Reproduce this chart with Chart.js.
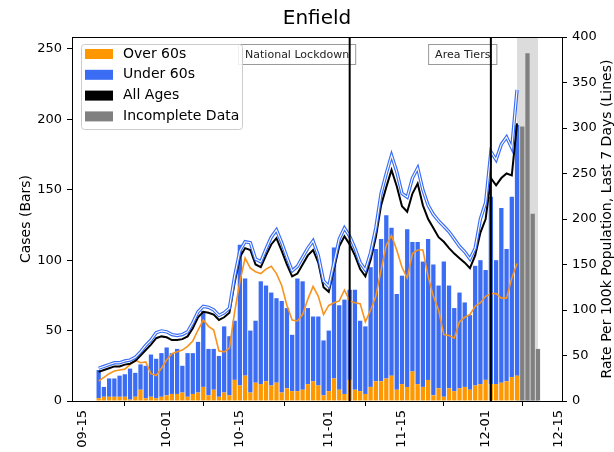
<!DOCTYPE html>
<html>
<head>
<meta charset="utf-8">
<script src="https://cdn.jsdelivr.net/npm/chart.js@4.4.0/dist/chart.umd.min.js"></script>
<style>
    html, body { margin: 0; padding: 0; background: #fff; }
</style>
</head>
<body>
<canvas id="enfieldChart" width="614" height="452"></canvas>
<script>
// first bar is 09-18, counted as days after 09-15
const startDay = 3;

// Cases per day (bars)
const over60Cases = [
    2, 3, 3, 3, 3, 3, 1, 3, 8, 2,
    3, 2, 3, 4, 5, 5, 6, 3, 5, 6,
    10, 4, 8, 3, 6, 4, 15, 11, 18, 6,
    13, 12, 14, 11, 13, 6, 9, 7, 7, 8,
    12, 14, 11, 4, 7, 16, 8, 5, 15, 8,
    7, 5, 10, 14, 14, 16, 18, 8, 12, 10,
    21, 12, 10, 15, 4, 9, 3, 9, 7, 9,
    10, 8, 11, 12, 15, 12, 12, 13, 14, 17, 18
];
const under60Cases = [
    20, 7, 13, 13, 15, 16, 22, 17, 18, 23,
    30, 28, 31, 34, 29, 32, 19, 31, 29, 36,
    54, 33, 29, 29, 47, 42, 42, 100, 69, 44,
    44, 73, 68, 66, 60, 65, 57, 40, 80, 77,
    54, 46, 49, 39, 43, 93, 60, 67, 64, 71,
    50, 48, 85, 94, 101, 116, 105, 68, 77, 112,
    92, 101, 89, 100, 93, 73, 96, 73, 59, 68,
    60, 53, 85, 88, 78, 133, 88, 124, 94, 128, 178
];
const incompleteCases = [195, 247, 133, 37];
const incompleteStart = 81;

// Rate per 100k, last 7 days (lines)
const allAgesRate = [
    32, 34, 36, 38, 38, 40, 41, 44, 50, 56,
    62, 69, 71, 70, 67, 67, 68, 71, 80, 92,
    98, 97, 95, 89, 92, 97, 130, 158, 168, 166,
    150, 147, 160, 172, 179, 165, 150, 137, 140, 150,
    160, 166, 152, 125, 120, 145, 170, 181, 172, 160,
    145, 137, 155, 180, 215, 235, 254, 236, 214, 208,
    228, 239, 215, 200, 190, 180, 175, 168, 162, 157,
    152, 146, 160, 185, 200, 245, 237, 245, 250, 248, 305
];
const under60Rate = [
    36, 38, 40, 42, 42, 44, 45, 48, 54, 61,
    67, 75, 77, 76, 73, 72, 73, 76, 86, 98,
    104, 103, 100, 94, 97, 102, 137, 165, 175, 174,
    156, 153, 167, 180, 188, 174, 158, 143, 148, 158,
    168, 176, 160, 132, 126, 152, 178, 190, 181, 168,
    152, 144, 163, 190, 228, 250, 270, 252, 228, 224,
    245, 256, 232, 215, 205, 198, 192, 186, 178, 170,
    164, 156, 168, 200, 218, 274, 265, 282, 290, 278, 342
];
const over60Rate = [
    22, 26, 30, 33, 34, 35, 40, 45, 42, 43,
    30, 28, 36, 45, 52, 54, 56, 60, 66, 78,
    89, 82, 78, 55, 54, 58, 98, 131, 157, 146,
    142, 140, 145, 148, 140, 127, 105, 89, 88, 95,
    112, 126, 115, 95, 105, 108, 110, 122, 110, 108,
    107, 87, 100, 115, 144, 171, 182, 166, 147, 135,
    162, 166, 166, 137, 115, 100, 73, 72, 69, 87,
    92, 95, 104, 108, 115, 118, 118, 113, 113, 135, 151
];

// Axes
const tickDays = [0, 16, 30, 47, 61, 77, 91];
const tickLabels = ['09-15', '10-01', '10-15', '11-01', '11-15', '12-01', '12-15'];
const caseTicks = [0, 50, 100, 150, 200, 250];
const rateTicks = [0, 50, 100, 150, 200, 250, 300, 350, 400];

// Events and incomplete span (days after 09-15)
const eventDays = [51, 78];
const eventLabels = ['National Lockdown', 'Area Tiers'];
const shadeDays = [83, 87];

const ORANGE = '#ff9800';
const BLUE = '#3a6cf4';
const GREY = '#808080';
const FONT = 'DejaVu Sans';

Chart.defaults.font.family = FONT;
Chart.defaults.color = '#000';

function toPoints(values, offset) {
    return values.map((v, i) => ({ x: startDay + offset + i, y: v }));
}

/**
 * Extra drawing: shaded span, event lines, frame, titles, legend
 */
const decorPlugin = {
    id: 'decor',
    beforeDatasetsDraw(chart) {
        const { ctx, chartArea: a, scales: { x } } = chart;
        const x0 = x.getPixelForValue(shadeDays[0]);
        const x1 = x.getPixelForValue(shadeDays[1]);
        ctx.save();
        ctx.fillStyle = '#dcdcdc';
        ctx.fillRect(x0, a.top, x1 - x0, a.bottom - a.top);
        ctx.restore();
    },
    afterDatasetsDraw(chart) {
        const { ctx, chartArea: a, scales: { x } } = chart;
        ctx.save();
        eventDays.forEach((day, i) => {
            const px = x.getPixelForValue(day);
            ctx.font = '11px "' + FONT + '"';
            const w = ctx.measureText(eventLabels[i]).width;
            const right = px - 0.5;
            ctx.fillStyle = 'rgba(255,255,255,0.85)';
            ctx.fillRect(right - w - 6.5, 44.5, w + 13, 20);
            ctx.strokeStyle = '#999';
            ctx.lineWidth = 1;
            ctx.strokeRect(right - w - 6.5, 44.5, w + 13, 20);
            ctx.fillStyle = '#222';
            ctx.textAlign = 'right';
            ctx.textBaseline = 'middle';
            ctx.fillText(eventLabels[i], right, 55);

            ctx.strokeStyle = '#000';
            ctx.lineWidth = 2;
            ctx.beginPath();
            ctx.moveTo(px, a.top);
            ctx.lineTo(px, a.bottom);
            ctx.stroke();
        });
        ctx.restore();
    },
    afterDraw(chart) {
        const { ctx, chartArea: a } = chart;
        ctx.save();

        // top spine
        ctx.strokeStyle = '#000';
        ctx.lineWidth = 1;
        ctx.beginPath();
        ctx.moveTo(a.left, a.top + 0.5);
        ctx.lineTo(a.right, a.top + 0.5);
        ctx.stroke();

        // title
        ctx.fillStyle = '#000';
        ctx.font = '20px "' + FONT + '"';
        ctx.textAlign = 'center';
        ctx.textBaseline = 'middle';
        ctx.fillText('Enfield', (a.left + a.right) / 2, 19);

        // axis titles
        ctx.font = '14px "' + FONT + '"';
        ctx.save();
        ctx.translate(26, (a.top + a.bottom) / 2);
        ctx.rotate(-Math.PI / 2);
        ctx.fillText('Cases (Bars)', 0, 0);
        ctx.restore();
        ctx.save();
        ctx.translate(607, (a.top + a.bottom) / 2);
        ctx.rotate(-Math.PI / 2);
        ctx.fillText('Rate Per 100k Population, Last 7 Days (Lines)', 0, 0);
        ctx.restore();

        // legend
        const items = [
            { label: 'Over 60s', color: ORANGE },
            { label: 'Under 60s', color: BLUE },
            { label: 'All Ages', color: '#000' },
            { label: 'Incomplete Data', color: GREY }
        ];
        ctx.fillStyle = 'rgba(255,255,255,0.85)';
        ctx.strokeStyle = '#cccccc';
        ctx.beginPath();
        ctx.roundRect(81.5, 44.5, 161, 85, 3);
        ctx.fill();
        ctx.stroke();
        ctx.textAlign = 'left';
        items.forEach((item, i) => {
            const cy = 54 + i * 20.8;
            ctx.fillStyle = item.color;
            ctx.fillRect(85, cy - 5, 28, 10);
            ctx.fillStyle = '#000';
            ctx.fillText(item.label, 123, cy);
        });

        ctx.restore();
    }
};

function initEnfieldChart() {
    const canvas = document.getElementById('enfieldChart');
    if (!canvas) return;
    const ctx = canvas.getContext('2d');

    const barOpts = { yAxisID: 'y', order: 10, barPercentage: 1, categoryPercentage: 0.82, borderWidth: 0 };
    const lineOpts = { type: 'line', yAxisID: 'y1', pointRadius: 0, tension: 0, fill: false };

    new Chart(ctx, {
        type: 'bar',
        data: {
            datasets: [
                { ...barOpts, label: 'Over 60s', data: toPoints(over60Cases, 0), backgroundColor: ORANGE },
                { ...barOpts, label: 'Under 60s', data: toPoints(under60Cases, 0), backgroundColor: BLUE },
                { ...barOpts, label: 'Incomplete Data', data: toPoints(incompleteCases, incompleteStart), backgroundColor: GREY },
                { ...lineOpts, label: 'Over 60s rate', data: toPoints(over60Rate, 0), borderColor: '#f7931e', borderWidth: 1.6, order: 3 },
                { ...lineOpts, label: 'All Ages', data: toPoints(allAgesRate, 0), borderColor: '#000', borderWidth: 2, order: 2 },
                { ...lineOpts, label: 'Under 60s rate', data: toPoints(under60Rate, 0), borderColor: BLUE, borderWidth: 3.4, order: 1 },
                { ...lineOpts, label: 'Under 60s core', data: toPoints(under60Rate, 0), borderColor: '#fff', borderWidth: 1.1, order: 0 }
            ]
        },
        options: {
            responsive: false,
            animation: false,
            layout: { padding: { top: 37, left: 0, right: 0, bottom: 0 } },
            plugins: {
                legend: { display: false },
                title: { display: false },
                tooltip: { enabled: false }
            },
            scales: {
                x: {
                    type: 'linear',
                    min: -2.1,
                    max: 91.6,
                    stacked: true,
                    offset: false,
                    afterBuildTicks: axis => { axis.ticks = tickDays.map(v => ({ value: v })); },
                    afterFit: s => { s.height = 51; },
                    grid: { drawOnChartArea: false, tickLength: 5, tickColor: '#000', color: '#000' },
                    border: { display: true, color: '#000', width: 1 },
                    ticks: {
                        autoSkip: false,
                        minRotation: 90,
                        maxRotation: 90,
                        padding: 4,
                        font: { size: 13 },
                        callback: (v, i) => tickLabels[i]
                    }
                },
                y: {
                    position: 'left',
                    min: 0,
                    max: 258.5,
                    stacked: true,
                    afterBuildTicks: axis => { axis.ticks = caseTicks.map(v => ({ value: v })); },
                    afterFit: s => { s.width = 72; },
                    grid: { drawOnChartArea: false, tickLength: 5, tickColor: '#000', color: '#000' },
                    border: { display: true, color: '#000', width: 1 },
                    ticks: { padding: 5, font: { size: 13 } }
                },
                y1: {
                    position: 'right',
                    min: 0,
                    max: 400,
                    afterBuildTicks: axis => { axis.ticks = rateTicks.map(v => ({ value: v })); },
                    afterFit: s => { s.width = 52; },
                    grid: { drawOnChartArea: false, tickLength: 5, tickColor: '#000', color: '#000' },
                    border: { display: true, color: '#000', width: 1 },
                    ticks: { padding: 5, font: { size: 13 } }
                }
            }
        },
        plugins: [decorPlugin]
    });
}

document.addEventListener('DOMContentLoaded', initEnfieldChart);
</script>
</body>
</html>
